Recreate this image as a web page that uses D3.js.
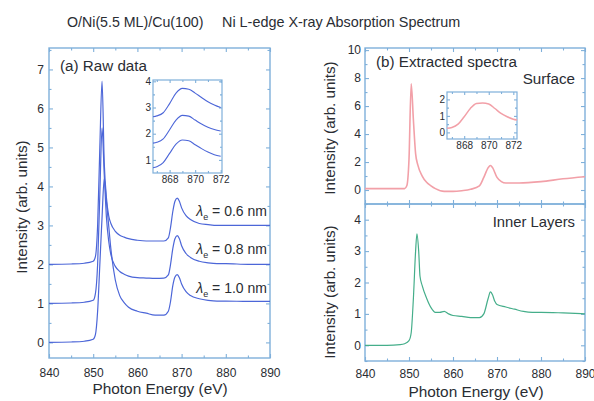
<!DOCTYPE html>
<html>
<head>
<meta charset="utf-8">
<script src="https://cdn.jsdelivr.net/npm/d3@7"></script>
<style>
  html, body { margin: 0; padding: 0; background: #fff; }
  svg { display: block; font-family: "Liberation Sans", Arial, sans-serif; }
</style>
</head>
<body>
<svg id="chart" width="594" height="401"></svg>
<script>
// ---- Data ----------------------------------------------------------------
const energyRaw = [840, 845, 848, 850, 850.5, 851, 851.5, 852, 852.5, 853, 853.5, 854, 855, 856, 857, 858, 860, 862, 864, 866, 867, 867.5, 868, 868.5, 869, 869.5, 870, 871, 872, 874, 876, 878, 880, 885, 890];
const raw06 = [2.0, 2.01, 2.03, 2.08, 2.2, 3.0, 5.0, 6.7, 4.6, 3.7, 3.25, 3.05, 2.85, 2.75, 2.7, 2.66, 2.62, 2.6, 2.6, 2.6, 2.68, 2.95, 3.35, 3.62, 3.7, 3.62, 3.45, 3.25, 3.15, 3.05, 3.02, 3.0, 3.0, 3.0, 3.0];
const raw08 = [1.0, 1.01, 1.03, 1.08, 1.25, 2.0, 3.8, 5.5, 4.3, 3.2, 2.6, 2.25, 1.95, 1.82, 1.75, 1.7, 1.66, 1.65, 1.64, 1.65, 1.73, 2.0, 2.4, 2.66, 2.74, 2.66, 2.48, 2.28, 2.18, 2.08, 2.04, 2.02, 2.02, 2.0, 2.0];
const raw10 = [0.0, 0.01, 0.03, 0.08, 0.2, 0.8, 2.0, 3.2, 4.2, 3.6, 3.0, 2.4, 1.6, 1.2, 1.02, 0.9, 0.8, 0.75, 0.7, 0.7, 0.8, 1.05, 1.45, 1.68, 1.74, 1.66, 1.5, 1.3, 1.2, 1.12, 1.08, 1.06, 1.06, 1.05, 1.05];
const rawLabels = ["0.6 nm", "0.8 nm", "1.0 nm"];

const energyInsetA = [866.7, 867, 867.5, 868, 868.5, 869, 869.5, 870, 870.5, 871, 871.5, 872];
const insetA06 = [2.65, 2.68, 2.8, 3.15, 3.55, 3.73, 3.7, 3.55, 3.38, 3.22, 3.1, 3.0];
const insetA08 = [1.64, 1.67, 1.8, 2.15, 2.52, 2.7, 2.67, 2.52, 2.37, 2.25, 2.16, 2.1];
const insetA10 = [0.7, 0.74, 0.9, 1.25, 1.6, 1.76, 1.73, 1.58, 1.43, 1.3, 1.2, 1.14];

const energySurface = [840, 845, 849, 849.5, 850, 850.5, 851, 851.5, 852, 853, 854, 855, 856, 858, 860, 862, 864, 866, 867, 868, 868.5, 869, 870, 871, 872, 875, 880, 885, 890];
const surface = [0.1, 0.1, 0.1, 0.3, 2.2, 7.6, 5.0, 2.6, 1.8, 1.0, 0.55, 0.3, 0.1, -0.1, -0.1, -0.05, 0.05, 0.3, 0.9, 1.6, 1.75, 1.6, 0.9, 0.6, 0.5, 0.5, 0.6, 0.8, 0.95];

const energyInner = [840, 845, 848, 849, 850, 850.5, 851, 851.5, 851.8, 852.2, 852.5, 853, 854, 855, 856, 857, 858, 859, 860, 862, 864, 866, 867, 868, 868.5, 869, 869.5, 870, 872, 874, 876, 878, 880, 885, 890];
const inner = [0.0, 0.0, 0.02, 0.05, 0.15, 0.4, 1.5, 3.0, 3.55, 3.0, 2.2, 1.9, 1.5, 1.2, 1.05, 1.05, 1.08, 1.0, 0.95, 0.92, 0.88, 0.88, 1.0, 1.5, 1.7, 1.6, 1.4, 1.3, 1.22, 1.15, 1.08, 1.05, 1.05, 1.03, 1.0];

const energyInsetB = [866.6, 867, 867.5, 868, 868.5, 869, 869.5, 870, 870.5, 871, 871.5, 872, 872.3];
const insetB = [0.25, 0.3, 0.5, 0.95, 1.45, 1.75, 1.78, 1.72, 1.45, 1.15, 0.95, 0.8, 0.75];

const xTicks = [840, 850, 860, 870, 880, 890];
const yTicksA = [0, 1, 2, 3, 4, 5, 6, 7];
const yTicksSurface = [0, 2, 4, 6, 8, 10];
const yTicksInner = [0, 1, 2, 3, 4];
const insetXTicks = [868, 870, 872];
const insetAYTicks = [1, 2, 3, 4];
const insetBYTicks = [0, 1, 2];

// ---- Styling ----------------------------------------------------------------
const frameColor = "#7fb0da";
const textColor = "#2a2d33";
const blueLine = "#4c66d8";
const pinkLine = "#f2a0a8";
const greenLine = "#45ae8a";

const svg = d3.select("#chart");
const zip = (xs, ys) => xs.map((x, i) => [x, ys[i]]);

function range(a, b, step) {
  const out = [];
  for (let v = a; v <= b + 1e-9; v += step) out.push(+v.toFixed(4));
  return out;
}

// Framed panel with inward ticks on all four sides.
function framedAxes(g, x, y, opt) {
  const [x0, x1] = x.range();
  const [y0, y1] = y.range();
  const fmt = d3.format("d");
  const ax = (axis, vals, size, labels, pad) =>
    axis.tickValues(vals).tickFormat(labels ? fmt : "").tickSizeInner(-size).tickSizeOuter(0).tickPadding(pad || 4);

  g.append("g").attr("transform", `translate(0,${y0})`).call(ax(d3.axisBottom(x), opt.xMinor, opt.minorLen, false));
  g.append("g").attr("transform", `translate(0,${y0})`).call(ax(d3.axisBottom(x), opt.xMajor, opt.majorLen, opt.xLabels, opt.xPad));
  g.append("g").attr("transform", `translate(0,${y1})`).call(ax(d3.axisTop(x), opt.xMinor, opt.minorLen, false));
  g.append("g").attr("transform", `translate(0,${y1})`).call(ax(d3.axisTop(x), opt.xMajor, opt.majorLen, false));
  g.append("g").attr("transform", `translate(${x0},0)`).call(ax(d3.axisLeft(y), opt.yMinor, opt.minorLen, false));
  g.append("g").attr("transform", `translate(${x0},0)`).call(ax(d3.axisLeft(y), opt.yMajor, opt.majorLen, true, opt.yPad));
  g.append("g").attr("transform", `translate(${x1},0)`).call(ax(d3.axisRight(y), opt.yMinor, opt.minorLen, false));
  g.append("g").attr("transform", `translate(${x1},0)`).call(ax(d3.axisRight(y), opt.yMajor, opt.majorLen, false));

  g.selectAll(".domain").remove();
  g.selectAll(".tick line").attr("stroke", frameColor).attr("stroke-width", 1.1);
  g.selectAll(".tick text").attr("fill", textColor).attr("font-size", opt.fontSize)
    .attr("font-family", "Liberation Sans, Arial, sans-serif");

  g.append("rect")
    .attr("x", x0).attr("y", y1).attr("width", x1 - x0).attr("height", y0 - y1)
    .attr("fill", "none").attr("stroke", frameColor).attr("stroke-width", opt.frameWidth || 1.4);
}

function drawLine(g, x, y, pts, color, width) {
  const line = d3.line().x(d => x(d[0])).y(d => y(d[1])).curve(d3.curveMonotoneX);
  g.append("path").datum(pts).attr("d", line)
    .attr("fill", "none").attr("stroke", color).attr("stroke-width", width)
    .attr("stroke-linejoin", "round");
}

// ---- Title ----------------------------------------------------------------
svg.append("text").attr("x", 67).attr("y", 27)
  .attr("fill", textColor).attr("font-size", 14.2).text("O/Ni(5.5 ML)/Cu(100)");
svg.append("text").attr("x", 222).attr("y", 27)
  .attr("fill", textColor).attr("font-size", 14.4).text("Ni L-edge X-ray Absorption Spectrum");

// ---- Panel (a): raw data ------------------------------------------------------
const xA = d3.scaleLinear().domain([840, 890]).range([49, 270]);
const yA = d3.scaleLinear().domain([-0.4, 7.55]).range([358, 48]);
const gA = svg.append("g");
framedAxes(gA, xA, yA, {
  xMajor: xTicks, xMinor: range(845, 885, 10), xLabels: true, xPad: 10, yPad: 5,
  yMajor: yTicksA, yMinor: range(0.5, 7.5, 1),
  majorLen: 4, minorLen: 2.5, fontSize: 12
});
[raw10, raw08, raw06].forEach(s => drawLine(gA, xA, yA, zip(energyRaw, s), blueLine, 1.2));

gA.append("text").attr("x", 60).attr("y", 71).attr("fill", textColor).attr("font-size", 15.2)
  .text("(a) Raw data");

// effective attenuation length labels
const lamY = [216, 254, 293];
rawLabels.forEach((lab, i) => {
  const t = gA.append("text").attr("x", 267).attr("y", lamY[i]).attr("text-anchor", "end")
    .attr("fill", textColor).attr("font-size", 14);
  t.append("tspan").attr("font-style", "italic").text("λ");
  t.append("tspan").attr("font-size", 9).attr("dy", 4).text("e");
  t.append("tspan").attr("dy", -4).text(" = " + lab);
});

svg.append("text").attr("transform", "translate(27,207) rotate(-90)")
  .attr("text-anchor", "middle").attr("fill", textColor).attr("font-size", 15.2)
  .text("Intensity (arb. units)");
svg.append("text").attr("x", 160).attr("y", 394).attr("text-anchor", "middle")
  .attr("fill", textColor).attr("font-size", 15.4).text("Photon Energy (eV)");

// inset (a)
const xIA = d3.scaleLinear().domain([866.7, 872.1]).range([153, 222]);
const yIA = d3.scaleLinear().domain([0.5, 4.05]).range([173, 80]);
const gIA = svg.append("g");
gIA.append("rect").attr("x", 153).attr("y", 80).attr("width", 69).attr("height", 93).attr("fill", "#fff");
framedAxes(gIA, xIA, yIA, {
  xMajor: insetXTicks, xMinor: [867, 869, 871], xLabels: true, xPad: 3, yPad: 2,
  yMajor: insetAYTicks, yMinor: [1.5, 2.5, 3.5],
  majorLen: 3, minorLen: 2, fontSize: 10, frameWidth: 1.2
});
[insetA10, insetA08, insetA06].forEach(s => drawLine(gIA, xIA, yIA, zip(energyInsetA, s), blueLine, 1.1));

// ---- Panel (b): extracted spectra --------------------------------------------
const xB = d3.scaleLinear().domain([840, 890]).range([365, 585]);
const yS = d3.scaleLinear().domain([-1, 10.15]).range([204, 48]);
const yI = d3.scaleLinear().domain([-0.5, 4.5]).range([361, 204]);

const gS = svg.append("g");
framedAxes(gS, xB, yS, {
  xMajor: xTicks, xMinor: range(845, 885, 10), xLabels: false, yPad: 4,
  yMajor: yTicksSurface, yMinor: range(-1, 9, 2),
  majorLen: 4, minorLen: 2.5, fontSize: 12
});
drawLine(gS, xB, yS, zip(energySurface, surface), pinkLine, 1.6);

const gI = svg.append("g");
framedAxes(gI, xB, yI, {
  xMajor: xTicks, xMinor: range(845, 885, 10), xLabels: true, xPad: 8, yPad: 4,
  yMajor: yTicksInner, yMinor: range(-0.5, 4.5, 1),
  majorLen: 4, minorLen: 2.5, fontSize: 12
});
drawLine(gI, xB, yI, zip(energyInner, inner), greenLine, 1.2);

svg.append("text").attr("x", 376).attr("y", 67).attr("fill", textColor).attr("font-size", 15.2)
  .text("(b) Extracted spectra");
svg.append("text").attr("x", 575).attr("y", 84).attr("text-anchor", "end")
  .attr("fill", textColor).attr("font-size", 15.2).text("Surface");
svg.append("text").attr("x", 575).attr("y", 227).attr("text-anchor", "end")
  .attr("fill", textColor).attr("font-size", 14.8).text("Inner Layers");

svg.append("text").attr("transform", "translate(335,128) rotate(-90)")
  .attr("text-anchor", "middle").attr("fill", textColor).attr("font-size", 15.2)
  .text("Intensity (arb. units)");
svg.append("text").attr("transform", "translate(335,292) rotate(-90)")
  .attr("text-anchor", "middle").attr("fill", textColor).attr("font-size", 15.2)
  .text("Intensity (arb. units)");
svg.append("text").attr("x", 476).attr("y", 397).attr("text-anchor", "middle")
  .attr("fill", textColor).attr("font-size", 15.4).text("Photon Energy (eV)");

// inset (b)
const xIB = d3.scaleLinear().domain([866.6, 872.3]).range([447, 517]);
const yIB = d3.scaleLinear().domain([-0.4, 2.45]).range([139, 92]);
const gIB = svg.append("g");
gIB.append("rect").attr("x", 447).attr("y", 92).attr("width", 70).attr("height", 47).attr("fill", "#fff");
framedAxes(gIB, xIB, yIB, {
  xMajor: insetXTicks, xMinor: [867, 869, 871], xLabels: true, xPad: 3, yPad: 2,
  yMajor: insetBYTicks, yMinor: [0.5, 1.5],
  majorLen: 3, minorLen: 2, fontSize: 10, frameWidth: 1.2
});
drawLine(gIB, xIB, yIB, zip(energyInsetB, insetB), pinkLine, 1.5);
</script>
</body>
</html>
